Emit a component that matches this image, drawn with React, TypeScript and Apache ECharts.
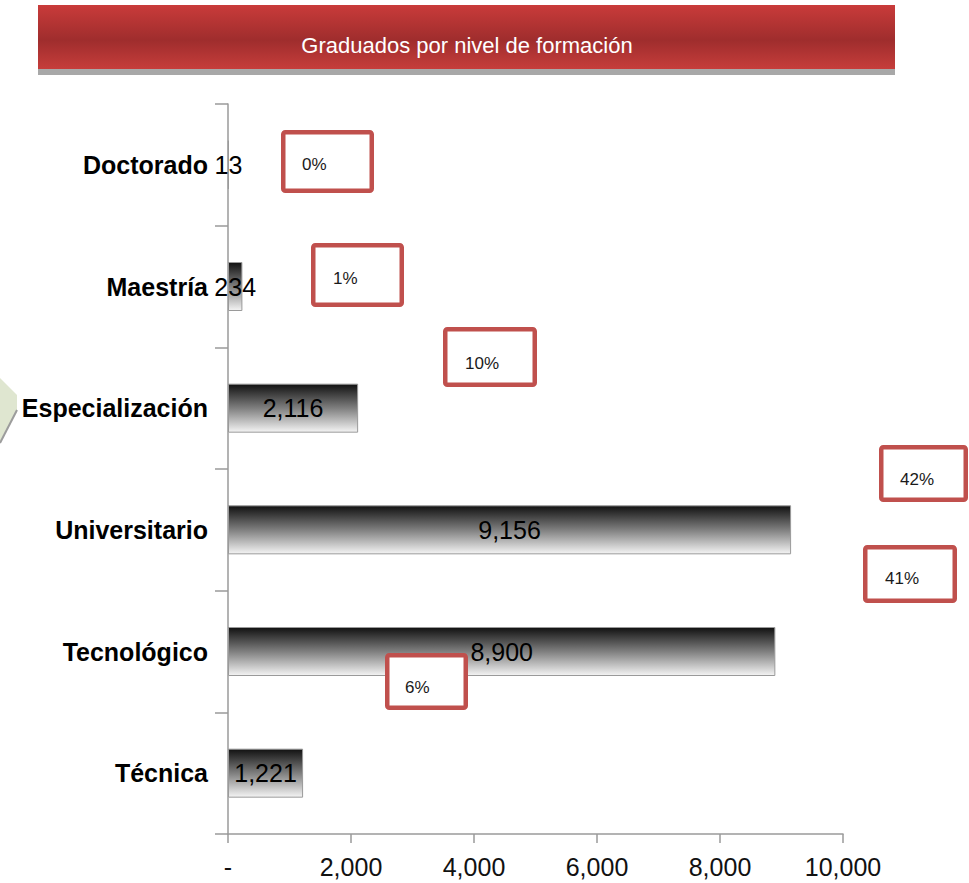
import React, { useEffect, useRef } from "react";
import * as echarts from "echarts";

// ---- data ----
const categories = ["Técnica", "Tecnológico", "Universitario", "Especialización", "Maestría", "Doctorado"];
const graduates = [1221, 8900, 9156, 2116, 234, 13];
const shareLabels = ["6%", "41%", "42%", "10%", "1%", "0%"];
const titleText = "Graduados por nivel de formación";
const xMin = 0;
const xMax = 10000;
const xStep = 2000;

// ---- layout of the (manually placed) percentage call-outs, same order as categories ----
const boxLayout = [
  { x: 385, y: 653, w: 83, h: 57, tx: 405, ty: 687 },
  { x: 863, y: 545, w: 94, h: 58, tx: 885, ty: 578 },
  { x: 879, y: 445, w: 89, h: 57, tx: 900, ty: 479 },
  { x: 443, y: 327, w: 94, h: 60, tx: 465, ty: 363 },
  { x: 311, y: 243, w: 93, h: 64, tx: 333, ty: 278 },
  { x: 281, y: 130, w: 93, h: 63, tx: 302, ty: 164 },
];

const FONT = "'Liberation Sans', Arial, Helvetica, sans-serif";
const fmt = (v: number) => (v === 0 ? "-" : v.toLocaleString("en-US"));

export default function App() {
  const ref = useRef<HTMLDivElement>(null);
  useEffect(() => {
    if (!ref.current) return;
    const chart = echarts.init(ref.current, undefined, { renderer: "svg" });
    const sw = 4.5;
    const boxes: any[] = [];
    boxLayout.forEach((b, i) => {
      boxes.push({
        type: "rect",
        z: 100,
        shape: { x: b.x + sw / 2, y: b.y + sw / 2, width: b.w - sw, height: b.h - sw, r: 2 },
        style: { fill: "#ffffff", stroke: "#c0504d", lineWidth: sw },
      });
      boxes.push({
        type: "text",
        z: 101,
        x: b.tx,
        y: b.ty,
        style: {
          text: shareLabels[i],
          fill: "#1a1a1a",
          font: `17px ${FONT}`,
          textAlign: "left",
          textVerticalAlign: "middle",
        },
      });
    });
    chart.setOption({
      animation: false,
      backgroundColor: "#ffffff",
      grid: { left: 228, top: 104, width: 615, height: 730, containLabel: false },
      xAxis: {
        type: "value",
        min: xMin,
        max: xMax,
        interval: xStep,
        splitLine: { show: false },
        axisLine: { show: true, lineStyle: { color: "#9a9a9a", width: 1.5 } },
        axisTick: { show: true, length: 9, lineStyle: { color: "#9a9a9a", width: 1.5 } },
        axisLabel: {
          margin: 20,
          color: "#111",
          fontSize: 25,
          fontFamily: FONT,
          formatter: (v: number) => fmt(v),
        },
      },
      yAxis: {
        type: "category",
        data: categories,
        axisLine: { show: true, lineStyle: { color: "#9a9a9a", width: 1.5 } },
        axisTick: { show: true, length: 13, lineStyle: { color: "#9a9a9a", width: 1.5 } },
        axisLabel: {
          interval: 0,
          margin: 20,
          color: "#000",
          fontSize: 25,
          fontWeight: "bold",
          fontFamily: FONT,
        },
      },
      series: [
        {
          type: "bar",
          data: graduates,
          barWidth: 49,
          itemStyle: {
            color: new echarts.graphic.LinearGradient(0, 0, 0, 1, [
              { offset: 0, color: "#111111" },
              { offset: 0.5, color: "#7f7f7f" },
              { offset: 1, color: "#f4f4f4" },
            ]),
            borderColor: "#9a9a9a",
            borderWidth: 1,
          },
          label: {
            show: true,
            position: "inside",
            color: "#000",
            fontSize: 25,
            fontFamily: FONT,
            formatter: (p: any) => fmt(p.value),
          },
          z: 2,
        },
      ],
      graphic: [
        {
          type: "polygon",
          z: 50,
          shape: { points: [[0, 378], [17, 395], [17, 412], [0, 443]] },
          style: { fill: "#dfe6d0" },
        },
        {
          type: "polyline",
          z: 51,
          shape: { points: [[17, 410], [0, 443]] },
          style: { stroke: "#9c9c9c", lineWidth: 2, fill: null },
        },
        {
          type: "rect",
          z: 60,
          shape: { x: 38, y: 69, width: 857, height: 6 },
          style: { fill: "#a8a8a8" },
        },
        {
          type: "rect",
          z: 61,
          shape: { x: 38, y: 5, width: 857, height: 64 },
          style: {
            fill: new echarts.graphic.LinearGradient(0, 0, 0, 1, [
              { offset: 0, color: "#c93b3a" },
              { offset: 0.55, color: "#9f2d2d" },
              { offset: 1, color: "#c63d3b" },
            ]),
          },
        },
        {
          type: "text",
          z: 62,
          x: 467,
          y: 45,
          style: {
            text: titleText,
            fill: "#ffffff",
            font: `22px ${FONT}`,
            textAlign: "center",
            textVerticalAlign: "middle",
          },
        },
        ...boxes,
      ],
    });
    return () => chart.dispose();
  }, []);
  return (
    <div
      ref={ref}
      style={{ position: "fixed", left: 0, top: 0, width: 969, height: 883, background: "#fff" }}
    />
  );
}
